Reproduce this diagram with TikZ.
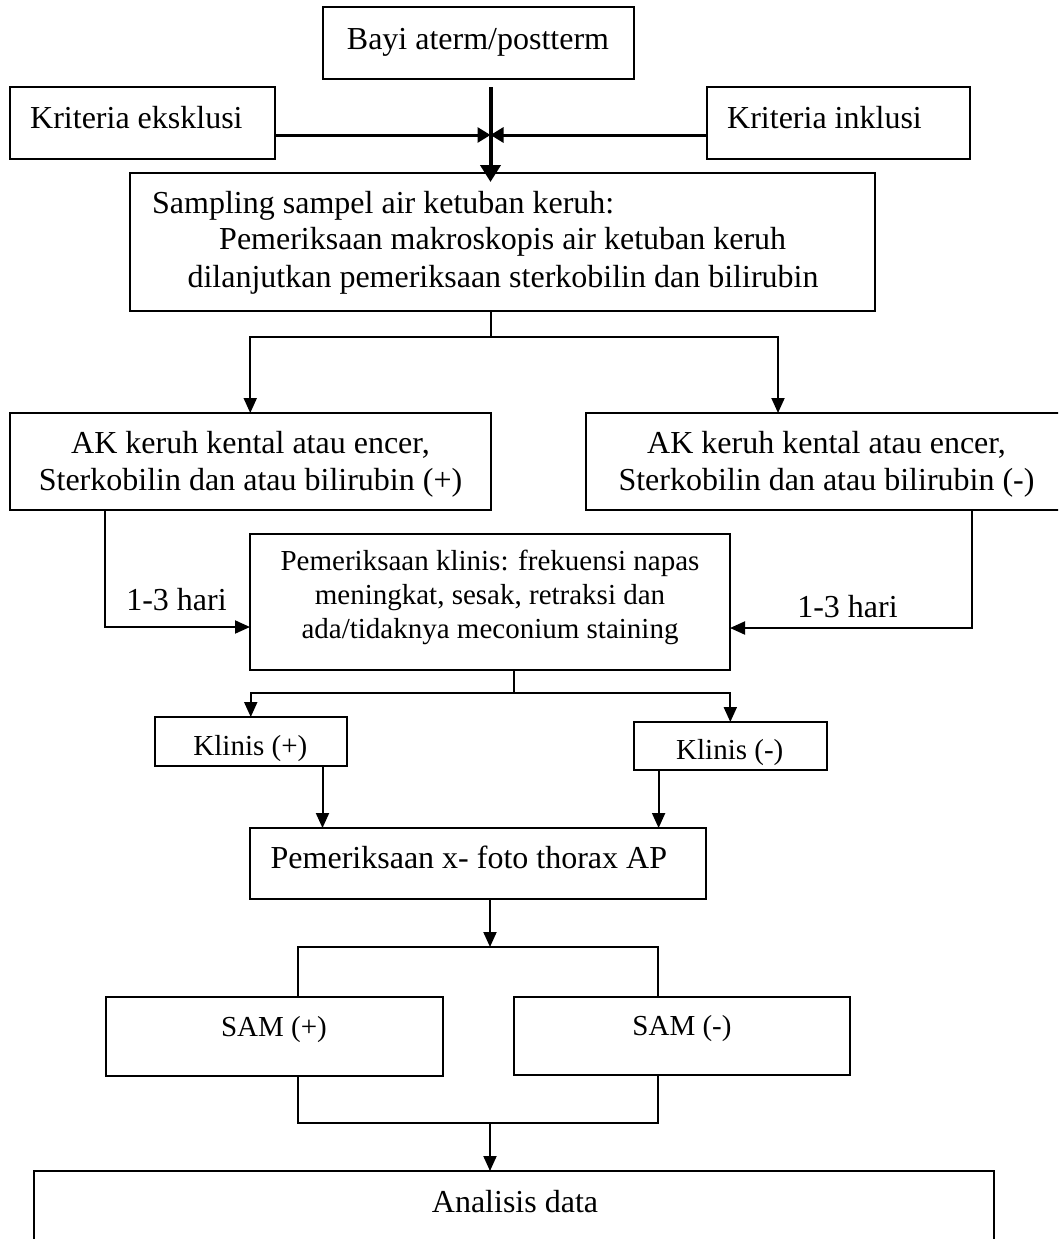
\documentclass[tikz,border=0pt]{standalone}
\usepackage{fontspec}
\setmainfont{Liberation Serif}
\usetikzlibrary{arrows.meta}
\tikzset{
  box/.style={draw, line width=2pt, inner sep=0pt, outer sep=0pt, anchor=north west},
  txt/.style={inner sep=0pt, font=\fontsize{32}{37}\selectfont},
  txts/.style={inner sep=0pt, font=\fontsize{29}{34}\selectfont},
  conn/.style={line width=2pt},
  arr/.style={line width=2pt, -{Triangle[length=15pt,width=13pt]}},
  bigarr/.style={line width=4pt, -{Triangle[length=17pt,width=20pt]}},
  sidearr/.style={line width=3pt, -{Triangle[length=13pt,width=15pt]}}
}
\begin{document}
\begin{tikzpicture}[x=1pt,y=-1pt]
\useasboundingbox (0,0) rectangle (1058,1239);
\clip (0,0) rectangle (1058,1239);
% boxes
\node[box, minimum width=311.5pt, minimum height=72pt] (bayi) at (322.5,7) {};
\node[box, minimum width=265pt, minimum height=72pt] (eks) at (9.5,87) {};
\node[box, minimum width=263.5pt, minimum height=72pt] (ink) at (706.5,87) {};
\node[box, minimum width=744.5pt, minimum height=138pt] (samp) at (130,173) {};
\node[box, minimum width=480.5pt, minimum height=97pt] (akL) at (10,413) {};
\node[box, minimum width=481pt, minimum height=97pt] (akR) at (586,413) {};
\node[box, minimum width=480pt, minimum height=136pt] (klin) at (250,534) {};
\node[box, minimum width=192.5pt, minimum height=49pt] (kp) at (154.5,717) {};
\node[box, minimum width=192.6pt, minimum height=48pt] (km) at (634,722) {};
\node[box, minimum width=456pt, minimum height=71pt] (xf) at (250,828) {};
\node[box, minimum width=337pt, minimum height=79pt] (sp) at (106,997) {};
\node[box, minimum width=336pt, minimum height=78pt] (sm) at (514,997) {};
\node[box, minimum width=960pt, minimum height=160pt] (an) at (34,1171) {};
% texts
\node[txt, anchor=base] (tbayi) at (478,50) {Bayi aterm/postterm};
\node[txt, anchor=base west] (teks) at (30,128) {Kriteria eksklusi};
\node[txt, anchor=base west] (tink) at (727,128) {Kriteria inklusi};
\node[txt, anchor=base west] (tsamp1) at (152,213) {Sampling sampel air ketuban keruh:};
\node[txt, anchor=base] (tsamp2) at (502.7,249) {Pemeriksaan makroskopis air ketuban keruh};
\node[txt, anchor=base] (tsamp3) at (503,287) {dilanjutkan pemeriksaan sterkobilin dan bilirubin};
\node[txt, anchor=base] (takL1) at (250.5,453) {AK keruh kental atau encer,};
\node[txt, anchor=base] (takL2) at (250.5,490) {Sterkobilin dan atau bilirubin (+)};
\node[txt, anchor=base] (takR1) at (826.5,453) {AK keruh kental atau encer,};
\node[txt, anchor=base] (takR2) at (826.5,490) {Sterkobilin dan atau bilirubin (-)};
\node[txts, anchor=base] (tklin1) at (490,570.5) {Pemeriksaan klinis: frekuensi napas};
\node[txts, anchor=base] (tklin2) at (490,604.5) {meningkat, sesak, retraksi dan};
\node[txts, anchor=base] (tklin3) at (490,638.5) {ada/tidaknya meconium staining};
\node[txt, anchor=base] (thari1) at (176.5,610) {1-3 hari};
\node[txt, anchor=base] (thari2) at (847.5,617) {1-3 hari};
\node[txts, anchor=base] (tkp) at (250.4,755) {Klinis (+)};
\node[txts, anchor=base] (tkm) at (729.8,759) {Klinis (-)};
\node[txt, anchor=base west] (txf) at (270.5,868) {Pemeriksaan x- foto thorax AP};
\node[txts, anchor=base] (tsp) at (274,1036) {SAM (+)};
\node[txts, anchor=base] (tsm) at (682,1035) {SAM (-)};
\node[txt, anchor=base] (tan) at (515,1212) {Analisis data};
% coordinates
\coordinate (vtop) at (490.5,87);
\coordinate (jt) at (490.5,135);
\coordinate (s1) at (490.5,337);
\coordinate (aR) at (778,337);
\coordinate (fl) at (104.6,627);
\coordinate (fr) at (971.6,628);
\coordinate (k1) at (514,693);
\coordinate (xl) at (322.5,800);
\coordinate (xr) at (658.6,800);
\coordinate (b1) at (490,947);
\coordinate (bl) at (298,947);
\coordinate (br) at (658,947);
\coordinate (bl2) at (298,1123);
\coordinate (br2) at (658,1123);
\coordinate (b2) at (490,1123);
% connectors
\draw[sidearr] (eks.east |- jt) -- (jt);
\draw[sidearr] (ink.west |- jt) -- (jt);
\draw[bigarr, shorten >=-9pt] (vtop) -- (samp.north -| vtop);
\draw[conn] (samp.south -| s1) -- (s1);
\draw[arr] (s1) -| (akL.north);
\draw[arr] (s1) -- (aR) -- (aR |- akR.north);
\draw[arr] (akL.south -| fl) |- (klin.west |- fl);
\draw[arr] (akR.south -| fr) |- (klin.east |- fr);
\draw[conn] (klin.south -| k1) -- (k1);
\draw[arr] (k1) -| (kp.north);
\draw[arr] (k1) -| (km.north);
\draw[arr] (kp.south -| xl) -- (xf.north -| xl);
\draw[arr] (km.south -| xr) -- (xf.north -| xr);
\draw[arr] (xf.south -| b1) -- (b1);
\draw[conn] (sp.north -| bl) -- (bl) -- (br) -- (sm.north -| br);
\draw[conn] (sp.south -| bl2) -- (bl2) -- (br2) -- (sm.south -| br2);
\draw[arr] (b2) -- (an.north -| b2);
\end{tikzpicture}
\end{document}
